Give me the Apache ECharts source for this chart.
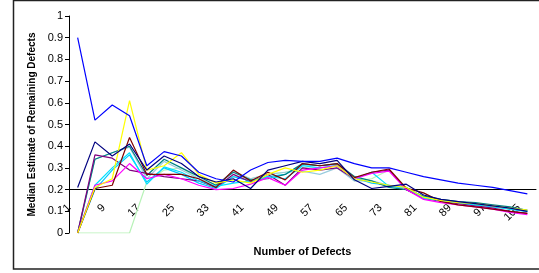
<!DOCTYPE html>
<html lang="en">
<head>
    <meta charset="UTF-8">
    <title>Median Estimate of Remaining Defects</title>
    <script src="https://cdn.jsdelivr.net/npm/echarts@6/dist/echarts.min.js"></script>
    <style>
        html, body { margin: 0; padding: 0; background: #fff; }
        #chart { width: 539px; height: 273px; }
    </style>
</head>
<body>
    <div id="chart"></div>
    <script>
        // number of defects (categories), step 4
        var categories = ['1','5','9','13','17','21','25','29','33','37','41','45','49','53','57','61','65','69','73','77','81','85','89','93','97','101','105'];
        var yTicks = [0, 0.1, 0.2, 0.3, 0.4, 0.5, 0.6, 0.7, 0.8, 0.9, 1];

        var sNavy      = [0.21,0.42,0.355,0.41,0.29,0.355,0.32,0.26,0.235,0.25,0.205,0.29,0.31,0.33,0.32,0.335,0.245,0.205,0.215,0.225,0.175,0.155,0.145,0.135,0.125,0.115,0.10];
        var sMagenta   = [0,0.22,0.24,0.32,0.25,0.27,0.25,0.22,0.20,0.205,0.225,0.255,0.22,0.29,0.30,0.31,0.25,0.275,0.285,0.20,0.155,0.14,0.13,0.12,0.11,0.095,0.085];
        var sYellow    = [0,0.21,0.25,0.61,0.29,0.31,0.37,0.27,0.23,0.245,0.23,0.27,0.30,0.28,0.29,0.31,0.25,0.235,0.22,0.21,0.165,0.15,0.14,0.135,0.125,0.115,0.105];
        var sCyan      = [0,0.22,0.30,0.37,0.225,0.305,0.28,0.24,0.215,0.23,0.24,0.26,0.25,0.31,0.30,0.31,0.25,0.28,0.215,0.21,0.16,0.15,0.14,0.13,0.125,0.11,0.10];
        var sPurple    = [0,0.36,0.345,0.29,0.275,0.26,0.25,0.24,0.21,0.27,0.235,0.27,0.22,0.30,0.29,0.30,0.25,0.28,0.29,0.20,0.16,0.145,0.135,0.125,0.115,0.10,0.09];
        var sMaroon    = [0,0.205,0.22,0.44,0.27,0.27,0.27,0.25,0.21,0.29,0.24,0.28,0.245,0.32,0.31,0.32,0.255,0.28,0.295,0.207,0.185,0.145,0.13,0.12,0.11,0.10,0.09];
        var sTeal      = [0,0.34,0.37,0.40,0.265,0.34,0.30,0.26,0.22,0.28,0.245,0.25,0.27,0.32,0.31,0.32,0.26,0.24,0.21,0.20,0.17,0.155,0.145,0.14,0.13,0.12,0.105];
        var sBlue      = [0.90,0.52,0.59,0.54,0.31,0.375,0.355,0.28,0.25,0.235,0.29,0.325,0.335,0.33,0.33,0.345,0.32,0.30,0.30,0.28,0.26,0.245,0.23,0.22,0.21,0.195,0.18];
        var sSky       = [0,0.20,0.29,0.36,0.235,0.30,0.27,0.23,0.205,0.26,0.24,0.26,0.27,0.315,0.31,0.315,0.255,0.23,0.22,0.21,0.165,0.15,0.14,0.13,0.12,0.11,0.10];
        var sPaleBlue  = [0,0.34,0.37,0.395,0.25,0.33,0.29,0.25,0.22,0.285,0.25,0.27,0.28,0.285,0.27,0.30,0.24,0.24,0.22,0.20,0.165,0.15,0.14,0.13,0.125,0.115,0.105];
        var sLightGrn  = [0,0,0,0,0.235,0.29,0.30,0.25,0.22,0.26,0.25,0.27,0.28,0.30,0.30,0.31,0.24,0.25,0.29,0.20,0.16,0.15,0.14,0.135,0.125,0.115,0.10];

        var seriesList = [
            {name: 'a', data: sLightGrn, color: '#B8F2B8'},
            {name: 'b', data: sPaleBlue, color: '#99CCDD'},
            {name: 'c', data: sSky, color: '#00CCFF'},
            {name: 'd', data: sTeal, color: '#008080'},
            {name: 'e', data: sPurple, color: '#800080'},
            {name: 'f', data: sCyan, color: '#00E0FF'},
            {name: 'g', data: sMagenta, color: '#FF00FF'},
            {name: 'h', data: sMaroon, color: '#800000'},
            {name: 'i', data: sYellow, color: '#FFFF00'},
            {name: 'j', data: sNavy, color: '#000080'},
            {name: 'k', data: sBlue, color: '#0000FF'}
        ];

        var chart = echarts.init(document.getElementById('chart'));
        var plotTop = 16, plotBottom = 40;
        var plotH = 273 - plotTop - plotBottom;

        var option = {
            animation: false,
            grid: { left: 69, right: 3, top: plotTop, bottom: plotBottom },
            graphic: [{
                type: 'rect',
                shape: { x: 13.5, y: 0.5, width: 600, height: 268.5 },
                style: { fill: 'none', stroke: '#222', lineWidth: 1.5 },
                silent: true
            }],
            xAxis: {
                type: 'category',
                data: categories,
                boundaryGap: true,
                offset: -0.2 * plotH,
                name: 'Number of Defects',
                nameLocation: 'middle',
                nameGap: 57,
                nameTextStyle: { fontFamily: 'Liberation Sans', fontSize: 11, fontWeight: 'bold', color: '#000' },
                axisLine: { lineStyle: { color: '#000', width: 1 } },
                axisTick: { interval: 0, length: 4, lineStyle: { color: '#000' } },
                axisLabel: { interval: 1, rotate: 45, margin: 8, padding: [0, 12, 0, 0], fontFamily: 'Liberation Sans', fontSize: 11, color: '#000' },
                splitLine: { show: false }
            },
            yAxis: {
                type: 'value',
                min: 0,
                max: 1,
                interval: 0.1,
                name: 'Median Estimate of Remaining Defects',
                nameLocation: 'middle',
                nameGap: 32,
                nameTextStyle: { fontFamily: 'Liberation Sans', fontSize: 10, fontWeight: 'bold', color: '#000' },
                axisLine: { show: true, lineStyle: { color: '#000', width: 1 } },
                axisTick: { show: true, length: 4, lineStyle: { color: '#000' } },
                axisLabel: {
                    fontFamily: 'Liberation Sans', fontSize: 11, color: '#000', margin: 6,
                    formatter: function (v) {
                        var t = yTicks.filter(function (k) { return Math.abs(k - v) < 1e-6; });
                        return t.length ? String(t[0]) : '';
                    }
                },
                splitLine: { show: false }
            },
            series: seriesList.map(function (s) {
                return {
                    name: s.name,
                    type: 'line',
                    data: s.data,
                    symbol: 'none',
                    lineStyle: { color: s.color, width: 1.2 },
                    itemStyle: { color: s.color }
                };
            })
        };
        chart.setOption(option);
    </script>
</body>
</html>
